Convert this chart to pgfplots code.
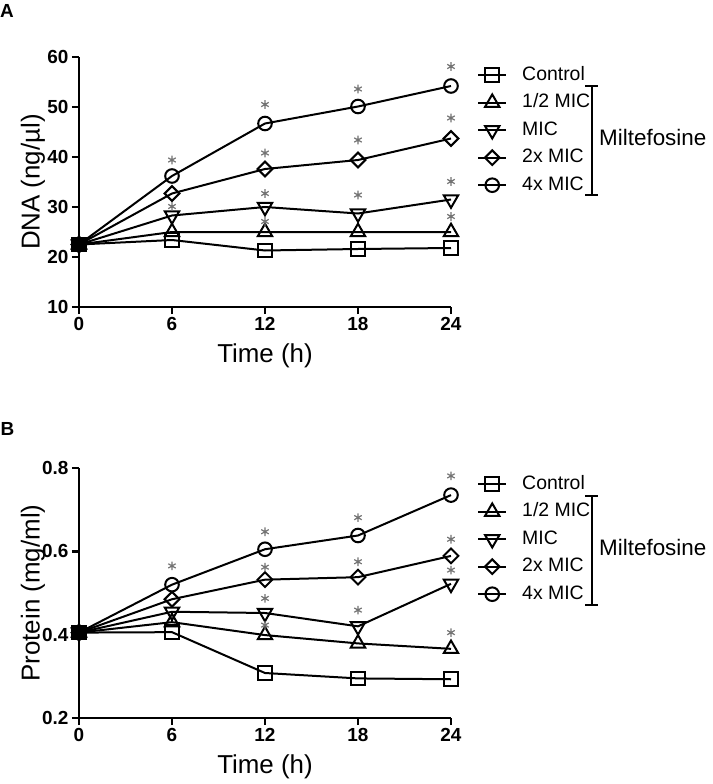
\documentclass[border=0pt]{standalone}
\usepackage{pgfplots}
\pgfplotsset{compat=1.18}
\usepackage{fontspec}
\setmainfont{Liberation Sans}

\pgfplotsset{
 panel/.style={
  scale only axis, width=372bp, height=250bp,
  axis lines=left, axis line style={line width=2.8bp, -},
  xmin=0, xmax=24, xtick={0,6,12,18,24},
  tick style={line width=2.8bp, black},
  major tick length=7bp,
  tick align=outside,
  ticklabel style={font=\fontsize{19}{19}\selectfont\bfseries},
  /pgf/number format/assume math mode=true,
  every axis y label/.style={at={(axis description cs:-0.1237,0.5)}, rotate=90, anchor=center, font=\fontsize{26}{30}\selectfont},
  every axis x label/.style={at={(axis description cs:0.5,-0.196)}, anchor=center, font=\fontsize{26}{30}\selectfont},
  xlabel={Time (h)},
  clip=false,
  legend style={draw=none, fill=none, font=\fontsize{19.5}{24}\selectfont, cells={anchor=west}, inner sep=0pt, row sep=7.5bp, column sep=15bp, nodes={inner sep=0pt, text height=15bp, text depth=5bp}},
  legend image code/.code={\draw[mark repeat=2,mark phase=2] plot coordinates {(0bp,0bp)(14bp,0bp)(28bp,0bp)};},
 },
 ctrl/.style={black, line width=2bp, mark=square, mark size=6.8bp, mark options={solid, line width=2bp, fill=none}},
 half/.style={black, line width=2bp, mark=triangle, mark size=8.3bp, mark options={solid, line width=2bp, fill=none}},
 mic/.style={black, line width=2bp, mark=triangle, mark size=8.3bp, mark options={solid, line width=2bp, fill=none, rotate=180}},
 twox/.style={black, line width=2bp, mark=square, mark size=5.2bp, mark options={solid, line width=2bp, fill=none, rotate=45}},
 fourx/.style={black, line width=2bp, mark=o, mark size=6.8bp, mark options={solid, line width=2bp, fill=none}},
 star/.style={only marks, mark=asterisk, mark size=4.3bp, color=black!55, mark options={line width=1.2bp}, forget plot},
 origin/.style={only marks, mark=square*, mark size=7bp, black, forget plot},
}

\begin{document}
\begin{tikzpicture}
\path (-79bp,-477bp) rectangle (634bp,307bp);

% Panel A
\begin{axis}[panel, at={(0bp,0bp)}, anchor=origin,
  ymin=10, ymax=60, ytick={10,20,30,40,50,60},
  ylabel={DNA (ng/µl)},
  legend style={at={(1.07,0.968)}, anchor=north west}]
\addplot[ctrl] coordinates {(0,22.5)(6,23.4)(12,21.3)(18,21.6)(24,21.8)};
\addlegendentry{Control}
\addplot[half] coordinates {(0,22.5)(6,25.0)(12,25.0)(18,25.0)(24,25.0)};
\addlegendentry{1/2 MIC}
\addplot[mic] coordinates {(0,22.5)(6,28.3)(12,30.0)(18,28.7)(24,31.5)};
\addlegendentry{MIC}
\addplot[twox] coordinates {(0,22.5)(6,32.7)(12,37.6)(18,39.4)(24,43.7)};
\addlegendentry{2x MIC}
\addplot[fourx] coordinates {(0,22.5)(6,36.2)(12,46.7)(18,50.1)(24,54.2)};
\addlegendentry{4x MIC}
\addplot[origin] coordinates {(0,22.5)};
\addplot[star] coordinates {(6,39.4)(6,30.1)(12,50.5)(12,40.8)(12,32.7)(12,27.1)(18,53.6)(18,43.4)(18,32.4)(24,58.1)(24,47.8)(24,35.1)(24,28.1)};
\end{axis}
\draw[line width=2bp] (512.7bp,221bp) -- (512.7bp,112bp);
\draw[line width=2bp] (506bp,221bp) -- (519bp,221bp);
\draw[line width=2bp] (506bp,112bp) -- (519bp,112bp);
\node[anchor=west, inner sep=0pt, font=\fontsize{22.5}{26}\selectfont] at (520bp,170bp) {Miltefosine};
\node[inner sep=0pt, font=\fontsize{19}{19}\selectfont\bfseries] at (-72bp,296bp) {A};

% Panel B
\begin{axis}[panel, at={(0bp,-411bp)}, anchor=origin,
  ymin=0.2, ymax=0.8, ytick={0.2,0.4,0.6,0.8},
  yticklabel style={/pgf/number format/fixed, /pgf/number format/precision=1, /pgf/number format/fixed zerofill},
  ylabel={Protein (mg/ml)},
  legend style={at={(1.07,0.976)}, anchor=north west}]
\addplot[ctrl] coordinates {(0,0.405)(6,0.406)(12,0.308)(18,0.295)(24,0.293)};
\addlegendentry{Control}
\addplot[half] coordinates {(0,0.405)(6,0.430)(12,0.399)(18,0.379)(24,0.366)};
\addlegendentry{1/2 MIC}
\addplot[mic] coordinates {(0,0.405)(6,0.455)(12,0.452)(18,0.420)(24,0.522)};
\addlegendentry{MIC}
\addplot[twox] coordinates {(0,0.405)(6,0.485)(12,0.532)(18,0.538)(24,0.589)};
\addlegendentry{2x MIC}
\addplot[fourx] coordinates {(0,0.405)(6,0.520)(12,0.605)(18,0.638)(24,0.735)};
\addlegendentry{4x MIC}
\addplot[origin] coordinates {(0,0.405)};
\addplot[star] coordinates {(6,0.565)(12,0.647)(12,0.562)(12,0.487)(12,0.423)(18,0.681)(18,0.575)(18,0.459)(24,0.781)(24,0.629)(24,0.555)(24,0.405)};
\end{axis}
\draw[line width=2bp] (512.7bp,-189bp) -- (512.7bp,-298bp);
\draw[line width=2bp] (506bp,-189bp) -- (519bp,-189bp);
\draw[line width=2bp] (506bp,-298bp) -- (519bp,-298bp);
\node[anchor=west, inner sep=0pt, font=\fontsize{22.5}{26}\selectfont] at (520bp,-240.3bp) {Miltefosine};
\node[inner sep=0pt, font=\fontsize{19}{19}\selectfont\bfseries] at (-71.5bp,-122bp) {B};
\end{tikzpicture}
\end{document}
